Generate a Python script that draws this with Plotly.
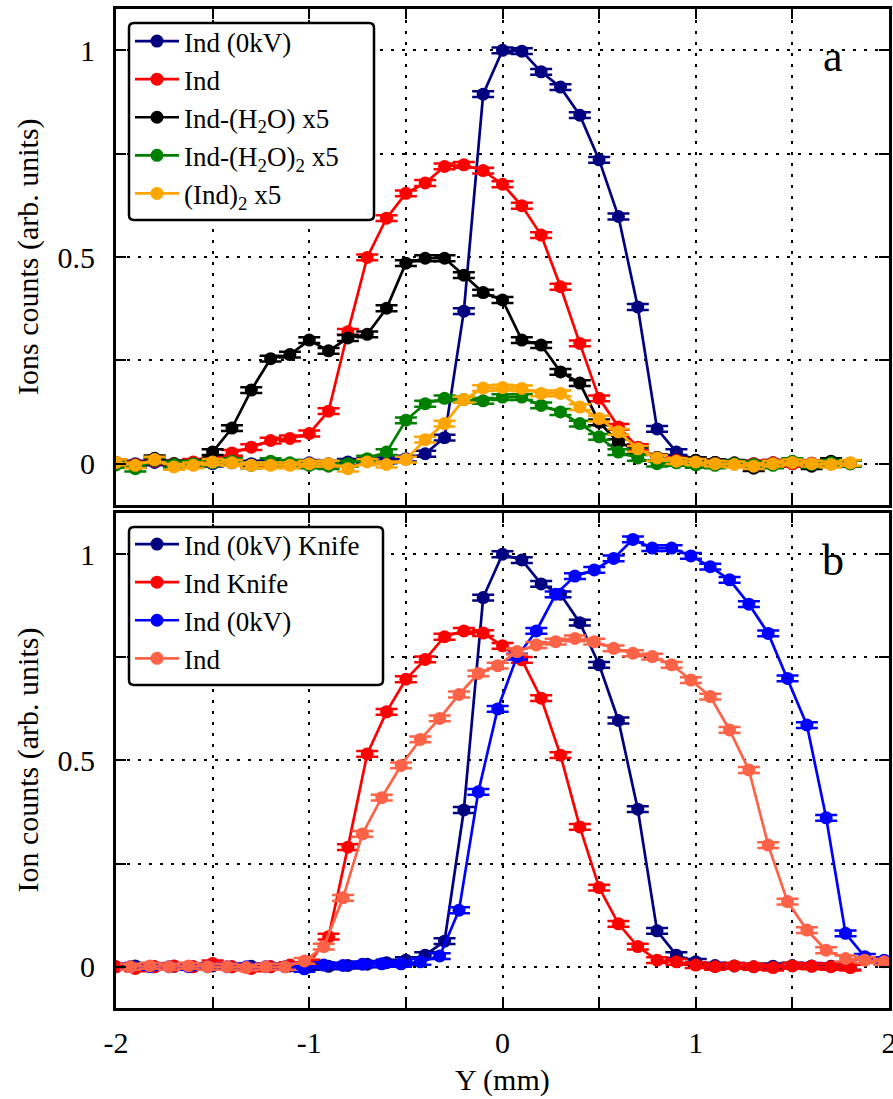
import plotly.graph_objects as go

# ---------------- data ----------------
x_a = [-2.0, -1.9, -1.8, -1.7, -1.6, -1.5, -1.4, -1.3, -1.2, -1.1,
       -1.0, -0.9, -0.8, -0.7, -0.6, -0.5, -0.4, -0.3, -0.2, -0.1,
       0.0, 0.1, 0.2, 0.3, 0.4, 0.5, 0.6, 0.7, 0.8, 0.9,
       1.0, 1.1, 1.2, 1.3, 1.4, 1.5, 1.6, 1.7, 1.8]

ind0kv_a = [0.002, 0.0, 0.003, 0.0, 0.001, 0.0, 0.002, 0.0, 0.001, 0.0,
            0.002, 0.0, 0.004, 0.006, 0.008, 0.012, 0.024, 0.063, 0.369, 0.894,
            1.0, 0.998, 0.948, 0.911, 0.843, 0.735, 0.598, 0.379, 0.084, 0.028,
            0.008, 0.003, 0.001, 0.0, 0.002, 0.0, 0.001, 0.0, 0.001]
ind_a = [0.003, -0.002, 0.006, 0.0, 0.004, 0.008, 0.026, 0.040, 0.056, 0.061,
         0.073, 0.127, 0.319, 0.499, 0.594, 0.654, 0.679, 0.719, 0.723, 0.709,
         0.676, 0.624, 0.553, 0.428, 0.291, 0.158, 0.089, 0.040, 0.015, 0.008,
         0.004, 0.002, 0.001, 0.0, 0.002, 0.0, 0.001, 0.0, 0.0]
indh2o_a = [0.0, -0.003, 0.013, 0.0, -0.002, 0.028, 0.086, 0.178, 0.254, 0.264,
            0.299, 0.273, 0.304, 0.313, 0.376, 0.485, 0.497, 0.497, 0.456, 0.414,
            0.396, 0.299, 0.287, 0.222, 0.195, 0.100, 0.052, 0.032, 0.015, 0.006,
            0.008, 0.003, 0.002, -0.011, 0.0, 0.004, -0.006, 0.006, 0.0]
indh2o2_a = [-0.003, -0.012, 0.008, -0.002, 0.0, 0.002, 0.006, -0.004, 0.006, 0.002,
             -0.004, -0.006, 0.0, 0.012, 0.028, 0.105, 0.145, 0.158, 0.155, 0.152,
             0.161, 0.161, 0.141, 0.125, 0.097, 0.065, 0.028, 0.014, 0.0, 0.002,
             -0.003, -0.004, 0.0, -0.002, -0.004, 0.006, -0.002, 0.002, 0.0]
ind2_a = [0.003, -0.004, 0.010, -0.008, -0.004, 0.004, 0.002, -0.004, -0.004, -0.004,
          0.0, 0.0, -0.012, 0.004, -0.002, 0.010, 0.058, 0.097, 0.155, 0.183,
          0.184, 0.182, 0.170, 0.170, 0.137, 0.109, 0.077, 0.036, 0.014, 0.006,
          0.004, 0.0, -0.002, -0.006, 0.0, 0.003, 0.0, -0.002, 0.002]

x_knife = x_a
ind0kv_knife = [0.0, 0.002, 0.0, 0.001, 0.0, 0.002, 0.0, 0.001, 0.0, 0.002,
                0.0, 0.001, 0.003, 0.006, 0.010, 0.016, 0.028, 0.062, 0.380, 0.895,
                1.0, 0.986, 0.928, 0.903, 0.834, 0.732, 0.597, 0.382, 0.087, 0.028,
                0.012, 0.003, 0.002, 0.0, 0.001, 0.003, 0.002, 0.001, 0.0]
ind_knife = [0.0, -0.004, 0.0, 0.002, 0.0, 0.008, 0.0, -0.004, 0.0, 0.004,
             0.010, 0.073, 0.290, 0.516, 0.618, 0.697, 0.745, 0.800, 0.814, 0.809,
             0.778, 0.744, 0.651, 0.513, 0.339, 0.192, 0.104, 0.049, 0.016, 0.012,
             0.004, 0.0, 0.002, 0.0, -0.002, 0.002, 0.001, 0.0, -0.002]

x_open = [-1.925, -1.825, -1.725, -1.625, -1.525, -1.425, -1.325, -1.225, -1.125, -1.025,
          -0.925, -0.825, -0.725, -0.625, -0.525, -0.425, -0.325, -0.225, -0.125, -0.025,
          0.075, 0.175, 0.275, 0.375, 0.475, 0.575, 0.675, 0.775, 0.875, 0.975,
          1.075, 1.175, 1.275, 1.375, 1.475, 1.575, 1.675, 1.775, 1.875, 1.975]
ind0kv_open = [0.0, 0.0, 0.0, 0.0, 0.0, 0.0, 0.0, 0.0, 0.0, -0.005,
               0.004, 0.003, 0.006, 0.007, 0.007, 0.012, 0.026, 0.137, 0.424, 0.625,
               0.752, 0.814, 0.903, 0.947, 0.962, 0.990, 1.036, 1.015, 1.015, 0.996,
               0.970, 0.938, 0.879, 0.808, 0.699, 0.586, 0.361, 0.081, 0.024, 0.016]
ind_open = [0.0, 0.002, 0.0, 0.002, 0.0, 0.0, -0.002, 0.0, 0.0, 0.014,
            0.049, 0.167, 0.322, 0.410, 0.488, 0.551, 0.602, 0.660, 0.711, 0.730,
            0.764, 0.780, 0.788, 0.796, 0.788, 0.772, 0.760, 0.752, 0.732, 0.695,
            0.655, 0.574, 0.477, 0.295, 0.158, 0.089, 0.040, 0.020, 0.016, 0.012]

err = 0.007

x_ticks = [-2, -1, 0, 1, 2]
x_ticktext = ["-2", "-1", "0", "1", "2"]
y_ticks = [0, 0.5, 1]
y_ticktext = ["0", "0.5", "1"]

FONT = "Liberation Serif, Times New Roman, DejaVu Serif, serif"

panel_a = [
    ("Ind (0kV)", x_a, ind0kv_a, "#000080"),
    ("Ind", x_a, ind_a, "#ff0000"),
    ("Ind-(H<sub>2</sub>O) x5", x_a, indh2o_a, "#000000"),
    ("Ind-(H<sub>2</sub>O)<sub>2</sub> x5", x_a, indh2o2_a, "#008000"),
    ("(Ind)<sub>2</sub> x5", x_a, ind2_a, "#ffa500"),
]
panel_b = [
    ("Ind (0kV) Knife", x_knife, ind0kv_knife, "#000080"),
    ("Ind Knife", x_knife, ind_knife, "#ff0000"),
    ("Ind (0kV)", x_open, ind0kv_open, "#0000ff"),
    ("Ind", x_open, ind_open, "#ff6347"),
]

fig = go.Figure()


def add(name, xs, ys, color, xa, ya, leg):
    fig.add_trace(go.Scatter(
        x=xs, y=ys, name=name, mode="lines+markers",
        line=dict(color=color, width=2.7),
        marker=dict(color=color, size=13, symbol="circle"),
        error_y=dict(type="constant", value=err, color=color,
                     thickness=2.5, width=11),
        xaxis=xa, yaxis=ya, legend=leg,
    ))


for n, xs, ys, c in panel_a:
    add(n, xs, ys, c, "x", "y", "legend")
for n, xs, ys, c in panel_b:
    add(n, xs, ys, c, "x2", "y2", "legend2")

GRID = dict(gridcolor="black", gridwidth=1.5, griddash="3px,8px")

axis_common = dict(
    showline=True, linecolor="black", linewidth=3, mirror="ticks",
    ticks="inside", ticklen=10, tickwidth=1.5, tickcolor="black",
    showgrid=True, zeroline=False, ticklabeloverflow="allow", automargin=False,
    tickfont=dict(family=FONT, size=30, color="black"), **GRID,
)

x_minor = dict(dtick=0.5, tick0=0, showgrid=True, ticks="inside", ticklen=10,
               tickwidth=1.5, tickcolor="black", **GRID)
y_minor = dict(dtick=0.25, tick0=0, showgrid=True, ticks="inside", ticklen=10,
               tickwidth=1.5, tickcolor="black", **GRID)

# figure geometry (pixels) used to place the legend frames
W, H, ML, MR, MT, MB = 893, 1099, 116, 4, 9, 91
PW, PH = W - ML - MR, H - MT - MB


def px2paper(px, py):
    return (px - ML) / PW, (H - MB - py) / PH


def rounded_box(x0, y0, x1, y1, r=5):
    ax0, ay0 = px2paper(x0, y0)
    ax1, ay1 = px2paper(x1, y1)
    rx, ry = r / PW, r / PH
    return (f"M {ax0+rx},{ay0} L {ax1-rx},{ay0} Q {ax1},{ay0} {ax1},{ay0-ry} "
            f"L {ax1},{ay1+ry} Q {ax1},{ay1} {ax1-rx},{ay1} "
            f"L {ax0+rx},{ay1} Q {ax0},{ay1} {ax0},{ay1+ry} "
            f"L {ax0},{ay0-ry} Q {ax0},{ay0} {ax0+rx},{ay0} Z")


leg_common = dict(xanchor="left", yanchor="top", bgcolor="rgba(0,0,0,0)",
                  borderwidth=0, font=dict(family=FONT, size=27, color="black"),
                  tracegroupgap=0, itemwidth=44)

lx, ly1 = px2paper(130, 17)
_, ly2 = px2paper(130, 520)

fig.update_layout(
    width=W, height=H,
    margin=dict(l=ML, r=MR, t=MT, b=MB),
    paper_bgcolor="white", plot_bgcolor="white",
    font=dict(family=FONT, color="black"),
    xaxis=dict(domain=[0, 1], anchor="y", range=[-2, 2], tickvals=x_ticks,
               ticktext=x_ticktext, showticklabels=False, minor=x_minor,
               **axis_common),
    yaxis=dict(domain=[0.5035, 1.0], anchor="x", range=[-0.1, 1.1],
               tickvals=y_ticks, ticktext=y_ticktext, ticklabelstandoff=12,
               minor=y_minor, **axis_common),
    xaxis2=dict(domain=[0, 1], anchor="y2", range=[-2, 2], tickvals=x_ticks,
                ticktext=x_ticktext, ticklabelstandoff=6, matches="x",
                minor=x_minor, **axis_common),
    yaxis2=dict(domain=[0.0, 0.4955], anchor="x2", range=[-0.1, 1.1],
                tickvals=y_ticks, ticktext=y_ticktext, ticklabelstandoff=12,
                minor=y_minor, **axis_common),
    legend=dict(x=lx, y=ly1, **leg_common),
    legend2=dict(x=lx, y=ly2, **leg_common),
    showlegend=True,
    shapes=[
        dict(type="path", xref="paper", yref="paper", layer="above",
             path=rounded_box(129, 23, 374, 220),
             fillcolor="white", line=dict(color="black", width=2.5)),
        dict(type="path", xref="paper", yref="paper", layer="above",
             path=rounded_box(129, 527, 383, 685),
             fillcolor="white", line=dict(color="black", width=2.5)),
    ],
)

ann_font = dict(family=FONT, size=30, color="black")
fig.add_annotation(text="Ions counts (arb. units)", textangle=-90,
                   xref="paper", yref="y domain", x=-0.1138, y=0.5,
                   xanchor="center", yanchor="middle", showarrow=False, font=ann_font)
fig.add_annotation(text="Ion counts (arb. units)", textangle=-90,
                   xref="paper", yref="y2 domain", x=-0.1138, y=0.5,
                   xanchor="center", yanchor="middle", showarrow=False, font=ann_font)
fig.add_annotation(text="Y (mm)", xref="x2 domain", yref="paper",
                   x=0.5, y=(1008 - 1080) / 999, xanchor="center", yanchor="middle",
                   showarrow=False, font=ann_font)
fig.add_annotation(text="a", xref="x domain", yref="y domain", x=0.9276, y=0.905,
                   xanchor="center", yanchor="middle", showarrow=False,
                   font=dict(family=FONT, size=44, color="black"))
fig.add_annotation(text="b", xref="x2 domain", yref="y2 domain", x=0.9276, y=0.905,
                   xanchor="center", yanchor="middle", showarrow=False,
                   font=dict(family=FONT, size=44, color="black"))

fig.write_html("out.html")
